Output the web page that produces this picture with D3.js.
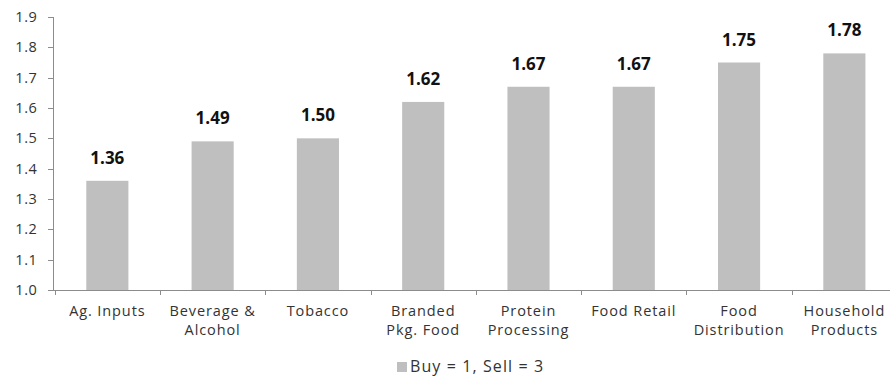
<!DOCTYPE html>
<html><head><meta charset="utf-8">
<script src="https://cdn.jsdelivr.net/npm/d3@7"></script>
<style>body{margin:0;background:#fff}svg{display:block}text{font-family:"Open Sans","Noto Sans",sans-serif}</style>
</head><body><svg id="c" width="890" height="376"></svg>
<script>
const categories = ["Ag. Inputs","Beverage & Alcohol","Tobacco","Branded Pkg. Food","Protein Processing","Food Retail","Food Distribution","Household Products"];
const categoryLines = [["Ag. Inputs"],["Beverage &","Alcohol"],["Tobacco"],["Branded","Pkg. Food"],["Protein","Processing"],["Food Retail"],["Food","Distribution"],["Household","Products"]];
const values = [1.36,1.49,1.50,1.62,1.67,1.67,1.75,1.78];
const valueLabels = ["1.36","1.49","1.50","1.62","1.67","1.67","1.75","1.78"];
const yTicks = [1.0,1.1,1.2,1.3,1.4,1.5,1.6,1.7,1.8,1.9];
const legendLabel = "Buy = 1, Sell = 3";

const svg = d3.select("#c");
const x = d3.scaleBand().domain(categories).range([54.7, 897]).paddingInner(0.6).paddingOuter(0.3);
const y = d3.scaleLinear().domain([1.0, 1.9]).range([290, 17]);
const axisColor = "#8c8c8c", textColor = "#333";

// bars
svg.selectAll("rect.bar").data(values).enter().append("rect")
  .attr("x", (d,i)=>x(categories[i])).attr("width", x.bandwidth())
  .attr("y", d=>y(d)).attr("height", d=>y(1.0)-y(d)).attr("fill", "#bfbfbf");

// value labels
svg.selectAll("text.val").data(values).enter().append("text")
  .attr("x", (d,i)=>x(categories[i])+x.bandwidth()/2).attr("y", d=>y(d)-17)
  .attr("text-anchor","middle").attr("font-size",17).attr("font-weight","bold").attr("fill","#111")
  .text((d,i)=>valueLabels[i]);

// y axis
const ya = svg.append("g");
ya.append("line").attr("x1",53.5).attr("x2",53.5).attr("y1",y(1.9)).attr("y2",y(1.0)).attr("stroke",axisColor);
ya.selectAll("line.t").data(yTicks).enter().append("line")
  .attr("x1",48).attr("x2",53.5).attr("y1",d=>Math.round(y(d))+0.5).attr("y2",d=>Math.round(y(d))+0.5).attr("stroke",axisColor);
ya.selectAll("text").data(yTicks).enter().append("text")
  .attr("x",37.5).attr("y",d=>y(d)).attr("dy","0.35em").attr("text-anchor","end")
  .attr("font-size",14.5).attr("letter-spacing",0.6).attr("fill",textColor).text(d=>d.toFixed(1));

// x axis
const xa = svg.append("g");
const step = x.step();
xa.append("line").attr("x1",53).attr("x2",897).attr("y1",290.5).attr("y2",290.5).attr("stroke",axisColor);
const bounds = categories.map(c=>x(c)-step*0.3).concat([x(categories[categories.length-1])+x.bandwidth()+step*0.3]);
xa.selectAll("line.t").data(bounds).enter().append("line")
  .attr("x1",d=>Math.round(d)+0.5).attr("x2",d=>Math.round(d)+0.5).attr("y1",290.5).attr("y2",295).attr("stroke",axisColor);
categoryLines.forEach((lines,i)=>{
  const cx = x(categories[i])+x.bandwidth()/2;
  const t = xa.append("text").attr("x", cx).attr("y",315.5)
    .attr("text-anchor","middle").attr("font-size",14.5).attr("letter-spacing",0.9).attr("fill",textColor);
  lines.forEach((l,j)=>t.append("tspan").attr("x", cx).attr("dy", j===0?0:19.8).text(l));
});

// legend
svg.append("rect").attr("x",397).attr("y",362).attr("width",10).attr("height",10).attr("fill","#bfbfbf");
svg.append("text").attr("x",410).attr("y",372).attr("font-size",16).attr("letter-spacing",1.1).attr("fill",textColor).text(legendLabel);
</script></body></html>
